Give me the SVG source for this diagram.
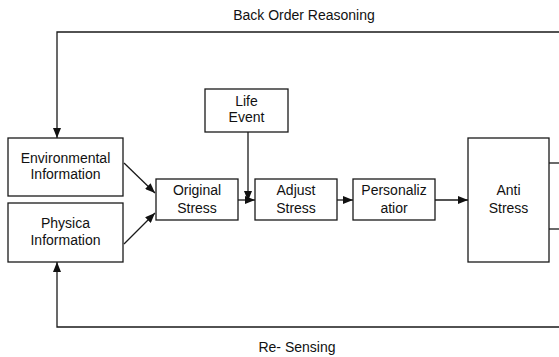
<svg xmlns="http://www.w3.org/2000/svg" width="559" height="357" viewBox="0 0 559 357">
  <style>
    .box { fill: #ffffff; stroke: #1a1a1a; stroke-width: 1.3; }
    .edge { fill: none; stroke: #1a1a1a; stroke-width: 1.3; }
    text { font-family: "Liberation Sans", Arial, sans-serif; font-size: 14px; fill: #111111; text-anchor: middle; }
  </style>
  <defs>
    <marker id="arrow" viewBox="0 0 10 8" refX="10" refY="4" markerWidth="10" markerHeight="8" markerUnits="userSpaceOnUse" orient="auto">
      <path d="M0,0 L10,4 L0,8 Z" fill="#111111"/>
    </marker>
  </defs>
  <rect width="559" height="357" fill="#ffffff"/>

  <g id="connectors">
    <!-- feedback loop over the top -->
    <polyline class="edge" points="559,32 57,32 57,138" marker-end="url(#arrow)"/>
    <!-- feedback loop along the bottom -->
    <polyline class="edge" points="559,327 57,327 57,262" marker-end="url(#arrow)"/>
    <line class="edge" x1="124" y1="163" x2="155" y2="193" marker-end="url(#arrow)"/>
    <line class="edge" x1="124" y1="244" x2="155" y2="213" marker-end="url(#arrow)"/>
    <line class="edge" x1="238" y1="200" x2="255" y2="200" marker-end="url(#arrow)"/>
    <line class="edge" x1="248" y1="132" x2="248" y2="201" marker-end="url(#arrow)"/>
    <line class="edge" x1="337" y1="200" x2="353" y2="200" marker-end="url(#arrow)"/>
    <line class="edge" x1="435" y1="200" x2="468" y2="200" marker-end="url(#arrow)"/>
    <line class="edge" x1="549" y1="163" x2="559" y2="163"/>
    <line class="edge" x1="549" y1="229" x2="559" y2="229"/>
  </g>

  <g id="label-back-order">
    <text x="304" y="20">Back Order Reasoning</text>
  </g>
  <g id="label-re-sensing">
    <text x="297" y="352">Re- Sensing</text>
  </g>

  <g id="life-event">
    <rect class="box" x="205" y="89" width="83" height="43"/>
    <text x="246.5" y="106">Life</text>
    <text x="246.5" y="122">Event</text>
  </g>

  <g id="environmental-information">
    <rect class="box" x="8" y="138" width="115" height="58"/>
    <text x="65.5" y="163">Environmental</text>
    <text x="65.5" y="179">Information</text>
  </g>

  <g id="physica-information">
    <rect class="box" x="8" y="203" width="115" height="59"/>
    <text x="65.5" y="228">Physica</text>
    <text x="65.5" y="245">Information</text>
  </g>

  <g id="original-stress">
    <rect class="box" x="156" y="179" width="82" height="41"/>
    <text x="197" y="195">Original</text>
    <text x="197" y="213">Stress</text>
  </g>

  <g id="adjust-stress">
    <rect class="box" x="255" y="179" width="82" height="41"/>
    <text x="296" y="195">Adjust</text>
    <text x="296" y="213">Stress</text>
  </g>

  <g id="personalization">
    <rect class="box" x="353" y="179" width="82" height="41"/>
    <text x="394" y="195">Personaliz</text>
    <text x="394" y="213">atior</text>
  </g>

  <g id="anti-stress">
    <rect class="box" x="468" y="138" width="81" height="124"/>
    <text x="508.5" y="195">Anti</text>
    <text x="508.5" y="213">Stress</text>
  </g>
</svg>
